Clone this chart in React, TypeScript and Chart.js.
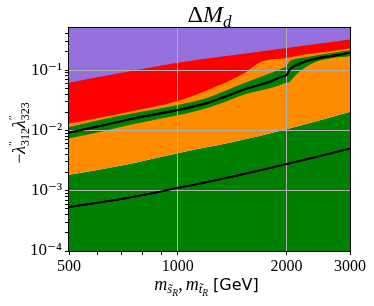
import React, { useEffect, useRef } from 'react';
import { Chart, registerables } from 'chart.js';

Chart.register(...registerables);

// ---------------- data ----------------
const X_MIN = 500;
const X_MAX = 3000;
const Y_MIN = 1e-4;
const Y_MAX = 0.5;

const X_TICKS = [500, 600, 700, 800, 900, 1000, 2000, 3000];
const X_TICK_LABELS = ['500', '', '', '', '', '1000', '2000', '3000'];
const X_GRID = [1000, 2000];

const Y_DECADES = [1e-4, 1e-3, 1e-2, 1e-1];
const Y_DECADE_LABELS = ['10⁻⁴', '10⁻³', '10⁻²', '10⁻¹'];
const Y_MINOR_STEPS = [2, 3, 4, 5, 6, 7, 8, 9];
const Y_GRID = [1e-3, 1e-2, 1e-1];

// purple / red boundary
const PURPLE_X = [500, 1000, 1190, 2000, 3000];
const PURPLE_Y = [0.062, 0.132, 0.154, 0.234, 0.322];

// red / orange boundary
const RED_X = [500, 608, 751, 1000, 1200, 1351, 1535, 1636, 1689, 1819, 2000, 2248, 2665, 3000];
const RED_Y = [0.013, 0.0163, 0.021, 0.0307, 0.0456, 0.0617, 0.0902, 0.1196, 0.1356, 0.1502, 0.1597, 0.1817, 0.2061, 0.2284];

// upper edge of green band
const BAND_TOP_X = [500, 608, 751, 1000, 1208, 1351, 1535, 1819, 1939, 2000, 2043, 2154, 2346, 2665, 3000];
const BAND_TOP_Y = [0.01143, 0.0149, 0.0193, 0.0264, 0.0348, 0.045, 0.0617, 0.0902, 0.1067, 0.1164, 0.141, 0.156, 0.1703, 0.193, 0.214];

// lower edge of green band
const BAND_BOTTOM_X = [500, 608, 751, 1000, 1208, 1351, 1535, 1819, 1939, 2000, 2043, 2109, 2248, 2396, 2665, 3000];
const BAND_BOTTOM_Y = [0.00732, 0.00944, 0.01266, 0.0178, 0.0236, 0.0296, 0.0397, 0.051, 0.058, 0.0617, 0.064, 0.0796, 0.1091, 0.1356, 0.158, 0.17];

// central black curve
const LIMIT_X = [500, 608, 751, 1000, 1208, 1351, 1535, 1819, 1939, 2000, 2043, 2109, 2248, 2447, 2773, 3000];
const LIMIT_Y = [0.0092, 0.0118, 0.0157, 0.0218, 0.0285, 0.0362, 0.048, 0.0658, 0.078, 0.083, 0.102, 0.118, 0.138, 0.157, 0.178, 0.195];

// lower orange / green boundary
const LOWER_EDGE_X = [500, 705, 1000, 1419, 2000, 3000];
const LOWER_EDGE_Y = [0.00184, 0.00265, 0.0042, 0.0064, 0.0105, 0.0205];

// lower black curve
const LOWER_LINE_X = [500, 705, 1000, 1419, 2000, 3000];
const LOWER_LINE_Y = [0.000538, 0.000738, 0.00111, 0.00172, 0.00276, 0.0050];

// ---------------- styles ----------------
const PURPLE = '#9370DB';
const RED = '#FF0000';
const ORANGE = '#FF8C00';
const GREEN = '#008000';
const GRID = '#b0b0b0';
const SERIF = '"Liberation Serif", "DejaVu Serif", serif';
const SANS = '"DejaVu Sans", sans-serif';

const pts = (xs: number[], ys: number[]) => xs.map((x, i) => ({ x, y: ys[i] }));
const same = (a: number, b: number) => Math.abs(Math.log10(a) - Math.log10(b)) < 1e-6;

type Run = { t: string; size: number; italic?: boolean; family?: string; dy?: number; dx?: number; stack?: boolean };

function drawRuns(ctx: CanvasRenderingContext2D, runs: Run[], cx: number, by: number) {
  const fontOf = (r: Run) => `${r.italic ? 'italic ' : ''}${r.size}px ${r.family || SERIF}`;
  let cur = 0;
  let prevStart = 0;
  const placed: { r: Run; sx: number }[] = [];
  for (const r of runs) {
    ctx.font = fontOf(r);
    const w = ctx.measureText(r.t).width;
    let sx: number;
    if (r.stack) {
      sx = prevStart;
      cur = Math.max(cur, sx + w);
    } else {
      sx = cur + (r.dx || 0);
      prevStart = sx;
      cur = sx + w;
    }
    placed.push({ r, sx });
  }
  const x0 = cx - cur / 2;
  ctx.fillStyle = '#000';
  ctx.textAlign = 'left';
  ctx.textBaseline = 'alphabetic';
  for (const p of placed) {
    ctx.font = fontOf(p.r);
    ctx.fillText(p.r.t, x0 + p.sx, by + (p.r.dy || 0));
  }
}

const decorPlugin = {
  id: 'decor',
  afterDraw(chart: any) {
    const ctx: CanvasRenderingContext2D = chart.ctx;
    const a = chart.chartArea;
    // curves above the grid
    ctx.save();
    ctx.beginPath();
    ctx.rect(a.left, a.top, a.right - a.left, a.bottom - a.top);
    ctx.clip();
    chart.data.datasets.forEach((ds: any, i: number) => {
      if (ds.isCurve) chart.getDatasetMeta(i).dataset.draw(ctx, a);
    });
    ctx.restore();
    // frame
    ctx.save();
    ctx.strokeStyle = '#000';
    ctx.lineWidth = 1;
    ctx.strokeRect(a.left - 0.5, a.top - 0.5, a.right - a.left + 1, a.bottom - a.top + 1);
    ctx.restore();
    // title
    ctx.save();
    drawRuns(ctx, [
      { t: 'Δ', size: 24 },
      { t: 'M', size: 24, italic: true },
      { t: 'd', size: 17, italic: true, dy: 5 },
    ], (a.left + a.right) / 2, 22);
    // x label
    drawRuns(ctx, [
      { t: 'm', size: 18, italic: true },
      { t: 's̃', size: 13, italic: true, dy: 3 },
      { t: 'R', size: 9.5, italic: true, dy: 6 },
      { t: ',', size: 18 },
      { t: 'm', size: 18, italic: true, dx: 3 },
      { t: 't̃', size: 13, italic: true, dy: 3 },
      { t: 'R', size: 9.5, italic: true, dy: 6 },
      { t: '[GeV]', size: 16, family: SANS, dx: 5 },
    ], (a.left + a.right) / 2 - 3, 290);
    ctx.restore();
    // y label
    ctx.save();
    ctx.translate(24.5, 133);
    ctx.rotate(-Math.PI / 2);
    drawRuns(ctx, [
      { t: '−', size: 18 },
      { t: 'λ', size: 18, italic: true },
      { t: '″', size: 12, dy: -8 },
      { t: '312', size: 12, dy: 4, stack: true },
      { t: 'λ', size: 18, italic: true },
      { t: '″', size: 12, dy: -8 },
      { t: '323', size: 12, dy: 4, stack: true },
    ], 0, 0);
    ctx.restore();
  },
};

const yTickValues: number[] = [];
for (const d of Y_DECADES) {
  yTickValues.push(d);
  for (const m of Y_MINOR_STEPS) {
    const v = d * m;
    if (v < Y_MAX * 0.999) yTickValues.push(v);
  }
}

export default function App() {
  const ref = useRef<HTMLCanvasElement | null>(null);

  useEffect(() => {
    document.body.style.margin = '0';
    const canvas = ref.current;
    if (!canvas) return;

    const area = (label: string, xs: number[], ys: number[], color: string, fill: string, order: number) => ({
      label,
      data: pts(xs, ys),
      fill,
      backgroundColor: color,
      borderColor: 'transparent',
      borderWidth: 0,
      pointRadius: 0,
      cubicInterpolationMode: 'monotone',
      order,
    });

    const chart = new Chart(canvas, {
      type: 'line',
      data: {
        datasets: [
          {
            label: 'lower curve',
            data: pts(LOWER_LINE_X, LOWER_LINE_Y),
            fill: false,
            borderColor: '#000',
            borderWidth: 1.8,
            pointRadius: 0,
            cubicInterpolationMode: 'monotone',
            order: 0,
            isCurve: true,
          },
          {
            label: 'central curve',
            data: pts(LIMIT_X, LIMIT_Y),
            fill: false,
            borderColor: '#000',
            borderWidth: 2,
            pointRadius: 0,
            cubicInterpolationMode: 'monotone',
            order: 1,
            isCurve: true,
          },
          area('purple', PURPLE_X, PURPLE_Y, PURPLE, 'end', 2),
          area('red', RED_X, RED_Y, RED, 'end', 3),
          area('orange upper', BAND_TOP_X, BAND_TOP_Y, ORANGE, 'end', 4),
          area('green band', BAND_BOTTOM_X, BAND_BOTTOM_Y, GREEN, 'end', 5),
          area('orange', LOWER_EDGE_X, LOWER_EDGE_Y, ORANGE, 'end', 6),
          area('green', LOWER_EDGE_X, LOWER_EDGE_Y, GREEN, 'start', 7),
        ] as any,
      },
      options: {
        responsive: false,
        animation: false,
        devicePixelRatio: 1,
        layout: { padding: { left: 0, right: 24, top: 28, bottom: 0 } },
        plugins: {
          legend: { display: false },
          tooltip: { enabled: false },
          title: { display: false },
        },
        scales: {
          x: {
            type: 'logarithmic',
            min: X_MIN,
            max: X_MAX,
            afterBuildTicks: (s: any) => {
              s.ticks = X_TICKS.map((v) => ({ value: v }));
            },
            afterFit: (s: any) => {
              s.height = 55;
            },
            border: { display: false },
            grid: {
              z: 1,
              color: (c: any) => (c.tick && X_GRID.some((g) => same(g, c.tick.value)) ? GRID : 'transparent'),
              tickColor: '#000',
              tickLength: 4,
              lineWidth: 1,
            },
            ticks: {
              autoSkip: false,
              maxRotation: 0,
              minRotation: 0,
              padding: 2,
              color: '#000',
              font: { family: SERIF, size: 16 },
              callback: (v: any) => {
                const i = X_TICKS.findIndex((t) => same(t, Number(v)));
                return i >= 0 ? X_TICK_LABELS[i] : '';
              },
            },
          },
          y: {
            type: 'logarithmic',
            min: Y_MIN,
            max: Y_MAX,
            afterBuildTicks: (s: any) => {
              s.ticks = yTickValues.map((v) => ({ value: v }));
            },
            afterFit: (s: any) => {
              s.width = 69;
            },
            border: { display: false },
            grid: {
              z: 1,
              color: (c: any) => (c.tick && Y_GRID.some((g) => same(g, c.tick.value)) ? GRID : 'transparent'),
              tickColor: '#000',
              tickLength: 4,
              lineWidth: 1,
            },
            ticks: {
              autoSkip: false,
              padding: 3,
              color: '#000',
              font: { family: SERIF, size: 17 },
              callback: (v: any) => {
                const i = Y_DECADES.findIndex((d) => same(d, Number(v)));
                return i >= 0 ? Y_DECADE_LABELS[i] : '';
              },
            },
          },
        },
      } as any,
      plugins: [decorPlugin],
    });

    return () => chart.destroy();
  }, []);

  return (
    <div style={{ width: 374, height: 306 }}>
      <canvas ref={ref} width={374} height={306} style={{ display: 'block' }} />
    </div>
  );
}
